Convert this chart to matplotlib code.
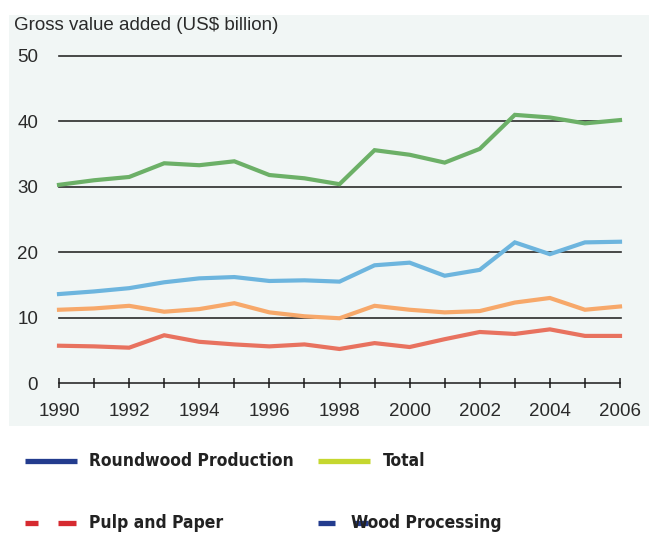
import matplotlib
matplotlib.use('Agg')
import matplotlib.pyplot as plt
from matplotlib.patches import Rectangle
from matplotlib.lines import Line2D
import numpy as np

years = np.arange(1990, 2007)

# gross value added, US$ billion
total = [30.3, 31.0, 31.5, 33.6, 33.3, 33.9, 31.8, 31.3, 30.4,
         35.6, 34.9, 33.7, 35.8, 41.0, 40.6, 39.7, 40.2]
wood_processing = [13.6, 14.0, 14.5, 15.4, 16.0, 16.2, 15.6, 15.7, 15.5,
                   18.0, 18.4, 16.4, 17.3, 21.5, 19.7, 21.5, 21.6]
pulp_and_paper = [11.2, 11.4, 11.8, 10.9, 11.3, 12.2, 10.8, 10.2, 9.9,
                  11.8, 11.2, 10.8, 11.0, 12.3, 13.0, 11.2, 11.7]
roundwood = [5.7, 5.6, 5.4, 7.3, 6.3, 5.9, 5.6, 5.9, 5.2,
             6.1, 5.5, 6.7, 7.8, 7.5, 8.2, 7.2, 7.2]

series = [total, wood_processing, pulp_and_paper, roundwood]
colors = ['#6cb067', '#6db5de', '#f7a86a', '#e8725f']

y_ticks = [0, 10, 20, 30, 40, 50]

plt.rcParams['font.family'] = ['Liberation Sans', 'DejaVu Sans']

W, H = 649, 534
fig = plt.figure(figsize=(W / 100, H / 100), dpi=100)
fig.patch.set_facecolor('white')

# pale panel behind the chart
fig.patches.append(Rectangle((9 / W, 1 - 426 / H), 640 / W, 411 / H,
                             transform=fig.transFigure, facecolor='#f1f6f5',
                             edgecolor='none', zorder=-5))

ax = fig.add_axes([59 / W, 1 - 383 / H, 561 / W, 327 / H])
ax.set_facecolor('none')
ax.set_xlim(1990, 2006)
ax.set_ylim(0, 50)

for y in y_ticks[1:]:
    ax.plot([1990, 2006.03], [y, y], color='#2a2a2a', lw=1.2, zorder=1, clip_on=False)

for vals, c in zip(series, colors):
    ax.plot(years, vals, color=c, lw=3.0, zorder=3, clip_on=False,
            solid_joinstyle='miter')

for s in ['top', 'right', 'left']:
    ax.spines[s].set_visible(False)
ax.spines['bottom'].set_color('#1a1a1a')
ax.spines['bottom'].set_linewidth(1.1)

ax.set_xticks(years)
ax.set_xticklabels([str(y) if y % 2 == 0 else '' for y in years])
ax.tick_params(axis='x', direction='inout', length=7, width=1.1, color='#1a1a1a',
               pad=11, labelsize=13.5, labelcolor='#2a2a2a')
ax.set_yticks(y_ticks)
ax.set_yticklabels([str(v) for v in y_ticks])
ax.tick_params(axis='y', length=0, pad=15, labelsize=13.5, labelcolor='#2a2a2a')

fig.text(14 / W, 1 - 25 / H, 'Gross value added (US$ billion)', fontsize=13.5,
         color='#2a2a2a', va='center', ha='left')

# legend
leg_font = dict(family='DejaVu Sans', fontstretch='condensed', fontweight='bold',
                fontsize=12.5, color='#222222', va='center', ha='left')


def px(x, y):
    return x / W, 1 - y / H


def seg(x0, x1, y, c):
    (a, b), (c2, d) = px(x0, y), px(x1, y)
    fig.add_artist(Line2D([a, c2], [b, d], color=c, lw=3.8,
                          transform=fig.transFigure, solid_capstyle='butt'))


seg(25, 77, 461, '#233c8e')
fig.text(*px(89, 461), 'Roundwood Production', **leg_font)
seg(318, 370, 461, '#c5d72f')
fig.text(*px(383, 461), 'Total', **leg_font)
seg(25, 38, 523, '#d62a30')
seg(58, 76, 523, '#d62a30')
fig.text(*px(89, 523), 'Pulp and Paper', **leg_font)
seg(318, 335, 523, '#233c8e')
fig.text(*px(351, 523), 'Wood Processing', **leg_font)
seg(354, 368, 523, '#233c8e')

fig.savefig('out.png', dpi=100, facecolor='white')
